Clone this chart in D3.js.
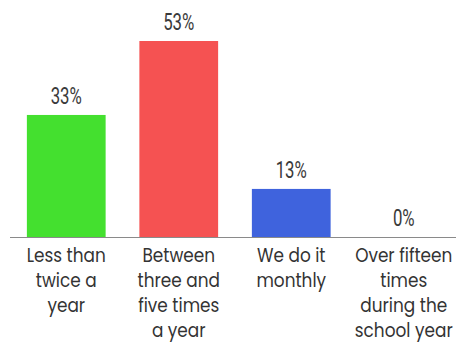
<!DOCTYPE html>
<html><head><meta charset="utf-8">
<script src="https://cdn.jsdelivr.net/npm/d3@7"></script>
<style>html,body{margin:0;padding:0;background:#fff;}</style>
</head><body>
<svg id="c" width="456" height="343"></svg>
<script>
const categories = ["Less than twice a year","Between three and five times a year","We do it monthly","Over fifteen times during the school year"];
const categoryLines = [["Less than","twice a","year"],["Between","three and","five times","a year"],["We do it","monthly"],["Over fifteen","times","during the","school year"]];
const values = [33,53,13,0];
const valueLabels = ["33%","53%","13%","0%"];
const colors = ["#44e02f","#f55252","#3f63dd","#cccccc"];

const svg = d3.select("#c");
const x = d3.scaleBand().domain(categories).range([10,460]).paddingInner(0.3).paddingOuter(0.15);
const y = d3.scaleLinear().domain([0,53]).range([237,41]);

svg.append("g").selectAll("rect").data(values).join("rect")
  .attr("x",(d,i)=>x(categories[i]))
  .attr("y",d=>y(d))
  .attr("width",x.bandwidth())
  .attr("height",d=>y(0)-y(d))
  .attr("fill",(d,i)=>colors[i]);

svg.append("line").attr("x1",10).attr("x2",456).attr("y1",y(0)+0.5).attr("y2",y(0)+0.5)
  .attr("stroke","#8a8a8a").attr("stroke-width",1.2);

svg.append("g").selectAll("text").data(values).join("text")
  .attr("transform",(d,i)=>`translate(${x(categories[i])+x.bandwidth()/2},${y(d)-11}) scale(0.7,1)`)
  .attr("text-anchor","middle")
  .attr("font-family","Roboto, sans-serif")
  .attr("font-weight",400)
  .attr("font-size",24)
  .attr("fill","#3a3a3a")
  .text((d,i)=>valueLabels[i]);

const lbl = svg.append("g").selectAll("text").data(categories).join("text")
  .attr("transform",d=>`translate(${x(d)+x.bandwidth()/2},262) scale(0.89,1)`)
  .attr("text-anchor","middle")
  .attr("font-family","Poppins, 'Open Sans', sans-serif")
  .attr("font-weight",400)
  .attr("font-size",19)
  .attr("fill","#333");
lbl.each(function(d,i){
  d3.select(this).selectAll("tspan").data(categoryLines[i]).join("tspan")
    .attr("x",0)
    .attr("dy",(t,j)=>j===0?0:25)
    .text(t=>t);
});
</script>
</body></html>
